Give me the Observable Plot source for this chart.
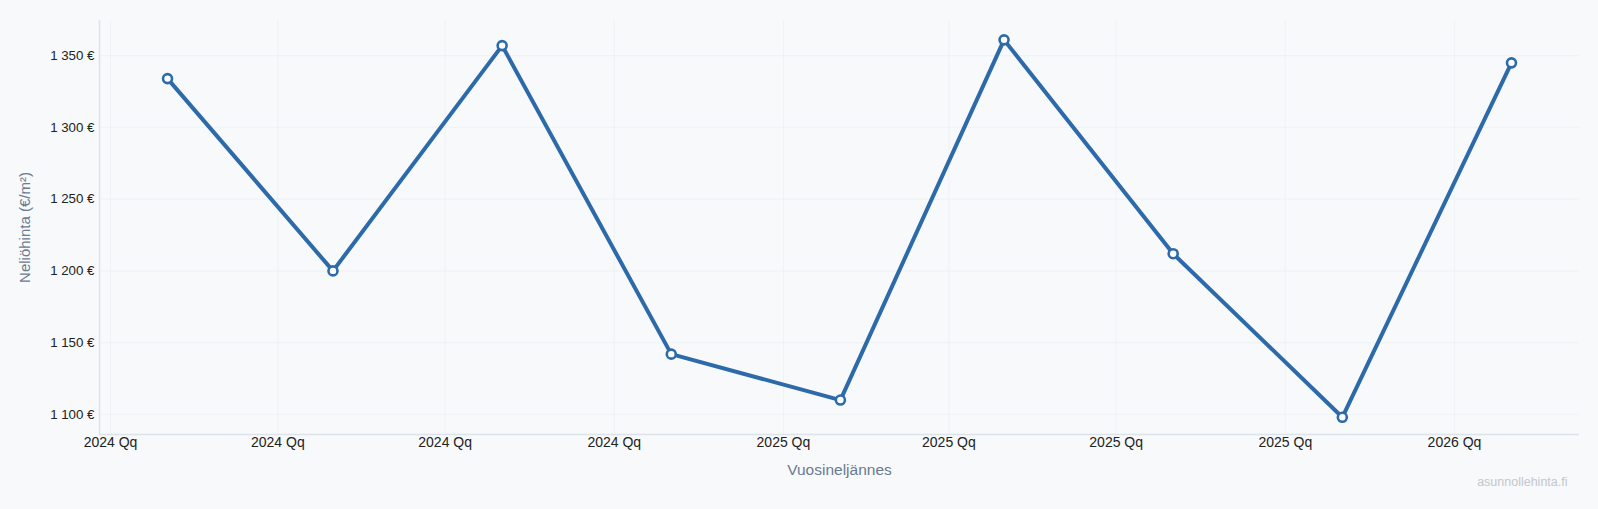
<!DOCTYPE html>
<html>
<head>
<meta charset="utf-8">
<script src="https://cdn.jsdelivr.net/npm/d3@7"></script>
<script src="https://cdn.jsdelivr.net/npm/@observablehq/plot@0.6"></script>
<style>
  html, body { margin: 0; padding: 0; background: #f7f9fb; }
  #chart { width: 1598px; height: 509px; }
</style>
</head>
<body>
<div id="chart"></div>
<script>
// Data: quarterly price per m² (dates as plotted by the original chart)
const periods = ["2024-02-01", "2024-05-01", "2024-08-01", "2024-11-01", "2025-02-01", "2025-05-01", "2025-08-01", "2025-11-01", "2026-02-01"];
const prices = [1334, 1200, 1357, 1142, 1110, 1361, 1212, 1098, 1345];

// Axis ticks
const xTickDates = ["2024-01-01", "2024-04-01", "2024-07-01", "2024-10-01", "2025-01-01", "2025-04-01", "2025-07-01", "2025-10-01", "2026-01-01"];
const xTickLabels = ["2024 Qq", "2024 Qq", "2024 Qq", "2024 Qq", "2025 Qq", "2025 Qq", "2025 Qq", "2025 Qq", "2026 Qq"];
const yTicks = [1100, 1150, 1200, 1250, 1300, 1350];
const xDomain = ["2023-12-26", "2026-03-10"];
const yDomain = [1086, 1374.5];

const yLabel = "Neliöhinta (€/m²)";
const xLabel = "Vuosineljännes";
const watermark = "asunnollehinta.fi";

const data = periods.map((p, i) => ({date: new Date(p), price: prices[i]}));
const tickMap = new Map(xTickDates.map((d, i) => [+new Date(d), xTickLabels[i]]));
const fmtNum = d3.formatLocale({decimal: ",", thousands: "\u00a0", grouping: [3], currency: ["", "\u00a0€"]}).format(",");

const lineColor = "#2d6aaa";
const xDom = xDomain.map(d => new Date(d));

const chart = Plot.plot({
  width: 1598,
  height: 509,
  marginLeft: 99,
  marginRight: 19,
  marginTop: 20,
  marginBottom: 75,
  style: {background: "#f7f9fb", fontFamily: "'Liberation Sans', Arial, sans-serif", fontSize: "13px", color: "#222"},
  x: {type: "utc", domain: xDom},
  y: {domain: yDomain},
  marks: [
    Plot.gridY(yTicks, {stroke: "#e6eaf0", strokeOpacity: 0.45}),
    Plot.gridX(xTickDates.map(d => new Date(d)), {stroke: "#e6eaf0", strokeOpacity: 0.45}),
    Plot.ruleY([yDomain[0]], {stroke: "#dde3eb", strokeWidth: 1.5}),
    Plot.ruleX([xDom[0]], {stroke: "#dde3eb", strokeWidth: 1.5}),
    Plot.axisY(yTicks, {tickSize: 0, tickPadding: 5, tickFormat: d => fmtNum(d) + "\u00a0€", label: null, fontSize: 13.3}),
    Plot.axisX(xTickDates.map(d => new Date(d)), {tickSize: 0, tickPadding: 3, tickFormat: d => tickMap.get(+d), label: null, fontSize: 14}),
    Plot.line(data, {x: "date", y: "price", stroke: lineColor, strokeWidth: 4, strokeLinejoin: "round"}),
    Plot.dot(data, {x: "date", y: "price", r: 4.5, fill: "white", stroke: lineColor, strokeWidth: 2.6}),
    Plot.text([yLabel], {frameAnchor: "left", text: d => d, rotate: -90, textAnchor: "middle", dx: -74, fontSize: 15, fill: "#6b7b90"}),
    Plot.text([xLabel], {frameAnchor: "bottom", text: d => d, dy: 40, fontSize: 15.5, fill: "#6b7b90"}),
    Plot.text([watermark], {frameAnchor: "bottom-right", text: d => d, textAnchor: "end", dx: -12, dy: 51, fontSize: 12.5, fill: "#c3c7cd"})
  ]
});
document.getElementById("chart").appendChild(chart);
</script>
</body>
</html>
